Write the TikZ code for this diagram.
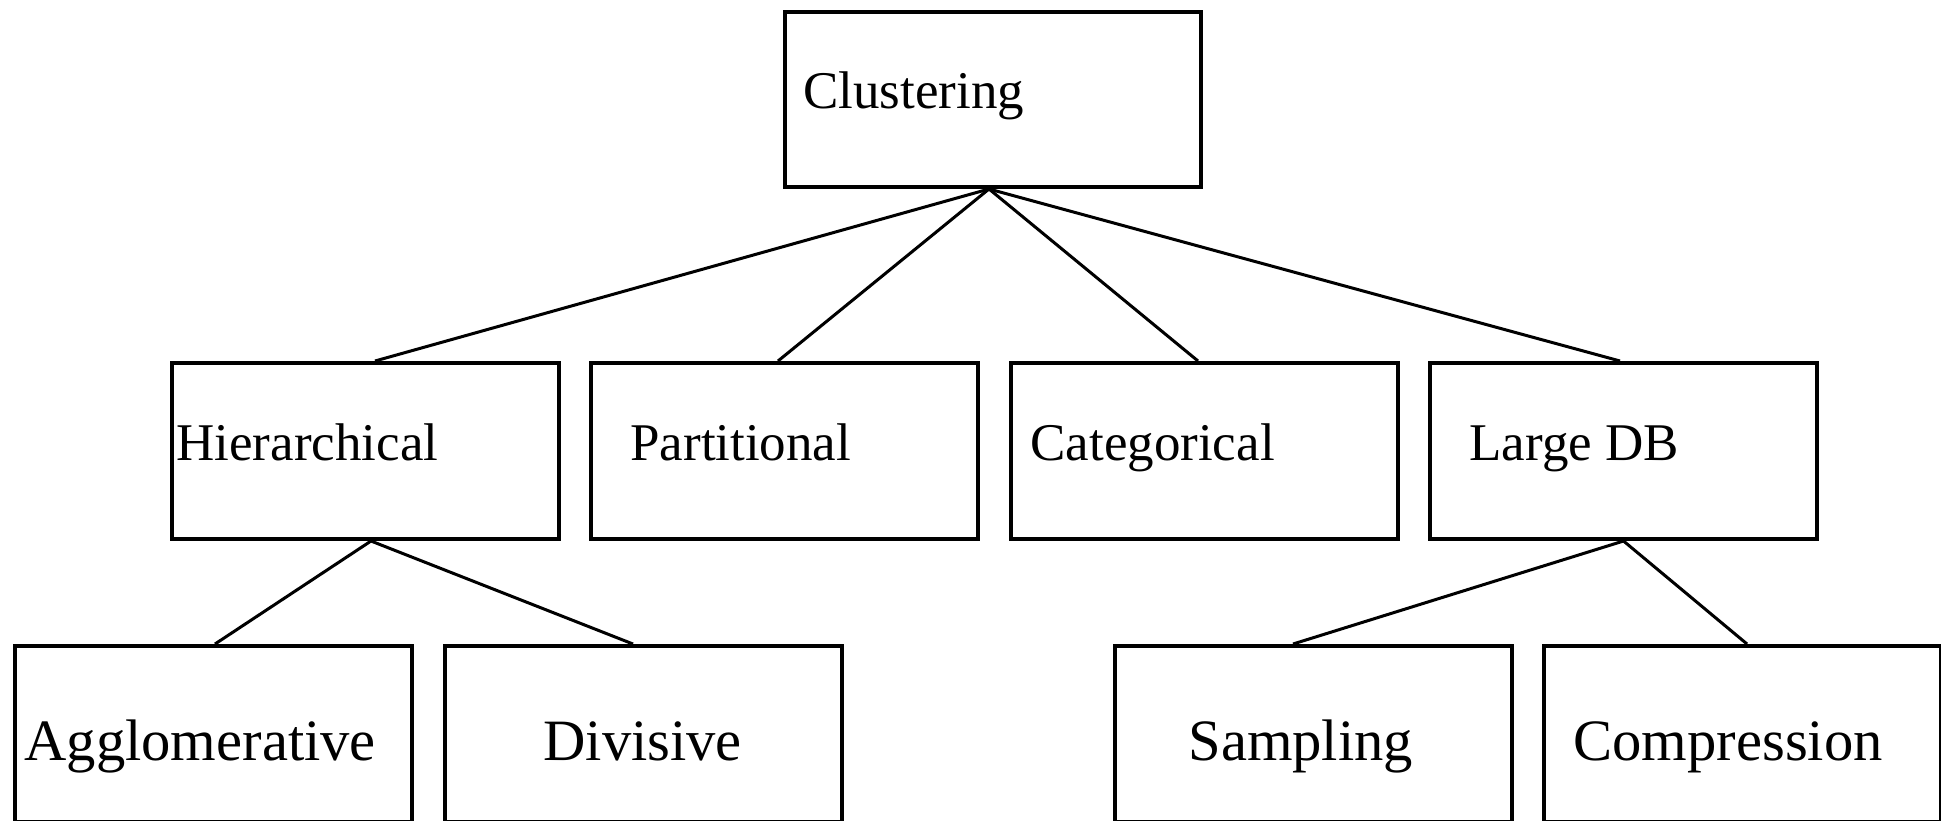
\documentclass[tikz,border=0pt]{standalone}
\usepackage{fontspec}
\setmainfont{Liberation Serif}
\begin{document}
\begin{tikzpicture}[x=0.5pt,y=-0.5pt,
  box/.style={draw, line width=2pt, inner sep=0pt, anchor=center},
  topbox/.style={box, minimum width=208pt, minimum height=87.5pt},
  midbox/.style={box, minimum width=193.5pt, minimum height=88pt},
  lowbox/.style={box, minimum width=198.5pt, minimum height=88pt},
  midtxt/.style={anchor=base west, inner sep=0pt, font=\fontsize{26.5pt}{30pt}\selectfont},
  lowtxt/.style={anchor=base west, inner sep=0pt, font=\fontsize{29.3pt}{33pt}\selectfont},
  link/.style={line width=1.5pt}]
\useasboundingbox (0,0) rectangle (1941,820);
% boxes
\node[topbox] (clu) at (993,99.5) {};
\node[midbox] (hier) at (365.5,451) {};
\node[midbox] (part) at (784.5,451) {};
\node[midbox] (cat) at (1204.5,451) {};
\node[midbox] (ldb) at (1623.5,451) {};
\node[lowbox] (agg) at (213.5,734) {};
\node[lowbox] (div) at (643.5,734) {};
\node[lowbox] (samp) at (1313,734) {};
\node[lowbox] (comp) at (1742,734) {};
% texts
\node[midtxt] (tclu) at (803,108) {Clustering};
\node[midtxt] (thier) at (176,460) {Hierarchical};
\node[midtxt] (tpart) at (630,460) {Partitional};
\node[midtxt] (tcat) at (1030,460) {Categorical};
\node[midtxt] (tldb) at (1469,460) {Large DB};
\node[lowtxt] (tagg) at (24,760) {Agglomerative};
\node[lowtxt] (tdiv) at (543,760) {Divisive};
\node[lowtxt] (tsamp) at (1188,760) {Sampling};
\node[lowtxt] (tcomp) at (1573,760) {Compression};
% connectors
\draw[link] ([xshift=-2pt]clu.south) -- ([xshift=4.75pt]hier.north);
\draw[link] ([xshift=-2pt]clu.south) -- ([xshift=-3.25pt]part.north);
\draw[link] ([xshift=-2pt]clu.south) -- ([xshift=-3.25pt]cat.north);
\draw[link] ([xshift=-2pt]clu.south) -- ([xshift=-1.75pt]ldb.north);
\draw[link] ([xshift=2.75pt]hier.south) -- ([xshift=0.75pt]agg.north);
\draw[link] ([xshift=2.75pt]hier.south) -- ([xshift=-5.25pt]div.north);
\draw[link] (ldb.south) -- ([xshift=-10pt]samp.north);
\draw[link] (ldb.south) -- ([xshift=2.5pt]comp.north);
\end{tikzpicture}
\end{document}
